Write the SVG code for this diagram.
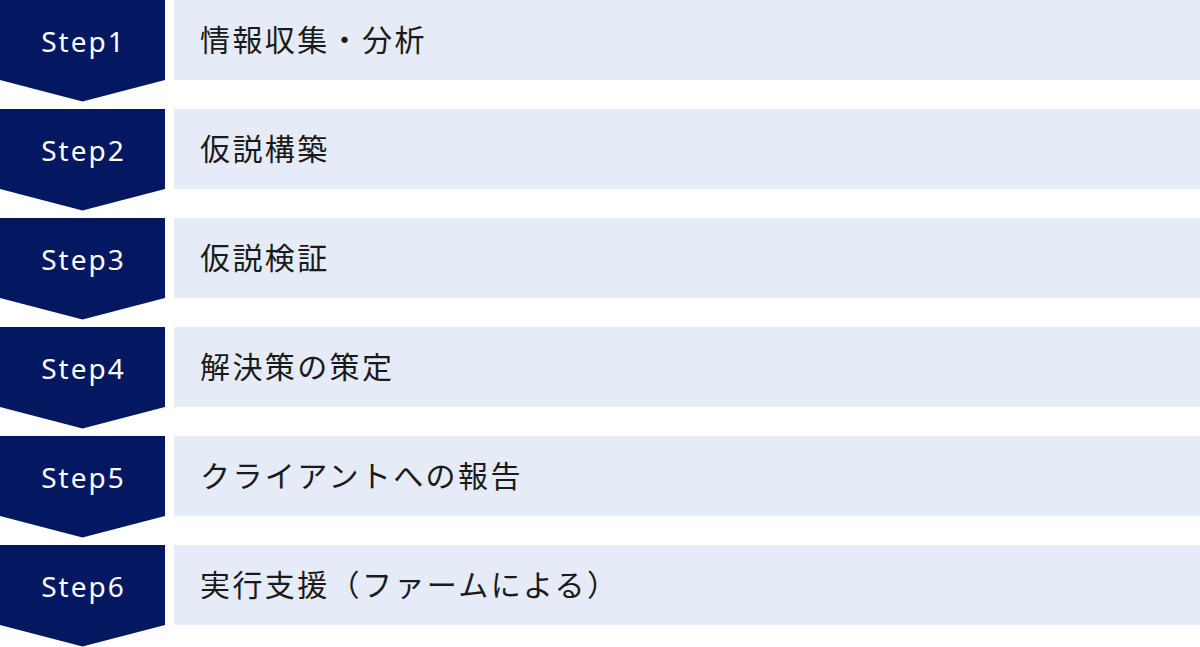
<svg xmlns="http://www.w3.org/2000/svg" width="1200" height="647" viewBox="0 0 1200 647">
<style>
.chev{fill:#041761}
.bar{fill:#E6EBF8}
.step{font-family:"Noto Sans","Liberation Sans",sans-serif;font-size:28px;fill:#ffffff;text-anchor:middle;letter-spacing:2px}
.lbl{font-family:"Noto Sans CJK JP","Noto Sans",sans-serif;font-size:30px;fill:#1a1a1a;letter-spacing:2.4px}
</style>
<defs>
<polygon id="chevron" points="0,0 165,0 165,80 82.5,101.5 0,80"/>
</defs>
<g id="connectors"></g>
<g id="step1" transform="translate(0,0)">
<use href="#chevron" class="chev"/>
<rect class="bar" x="174" y="0" width="1026" height="80"/>
<text class="step" x="83.5" y="52">Step1</text>
<text class="lbl" x="200" y="51">情報収集・分析</text>
</g>
<g id="step2" transform="translate(0,109)">
<use href="#chevron" class="chev"/>
<rect class="bar" x="174" y="0" width="1026" height="80"/>
<text class="step" x="83.5" y="52">Step2</text>
<text class="lbl" x="200" y="51">仮説構築</text>
</g>
<g id="step3" transform="translate(0,218)">
<use href="#chevron" class="chev"/>
<rect class="bar" x="174" y="0" width="1026" height="80"/>
<text class="step" x="83.5" y="52">Step3</text>
<text class="lbl" x="200" y="51">仮説検証</text>
</g>
<g id="step4" transform="translate(0,327)">
<use href="#chevron" class="chev"/>
<rect class="bar" x="174" y="0" width="1026" height="80"/>
<text class="step" x="83.5" y="52">Step4</text>
<text class="lbl" x="200" y="51">解決策の策定</text>
</g>
<g id="step5" transform="translate(0,436)">
<use href="#chevron" class="chev"/>
<rect class="bar" x="174" y="0" width="1026" height="80"/>
<text class="step" x="83.5" y="52">Step5</text>
<text class="lbl" x="200" y="51">クライアントへの報告</text>
</g>
<g id="step6" transform="translate(0,545)">
<use href="#chevron" class="chev"/>
<rect class="bar" x="174" y="0" width="1026" height="80"/>
<text class="step" x="83.5" y="52">Step6</text>
<text class="lbl" x="200" y="51">実行支援（ファームによる）</text>
</g>
</svg>
